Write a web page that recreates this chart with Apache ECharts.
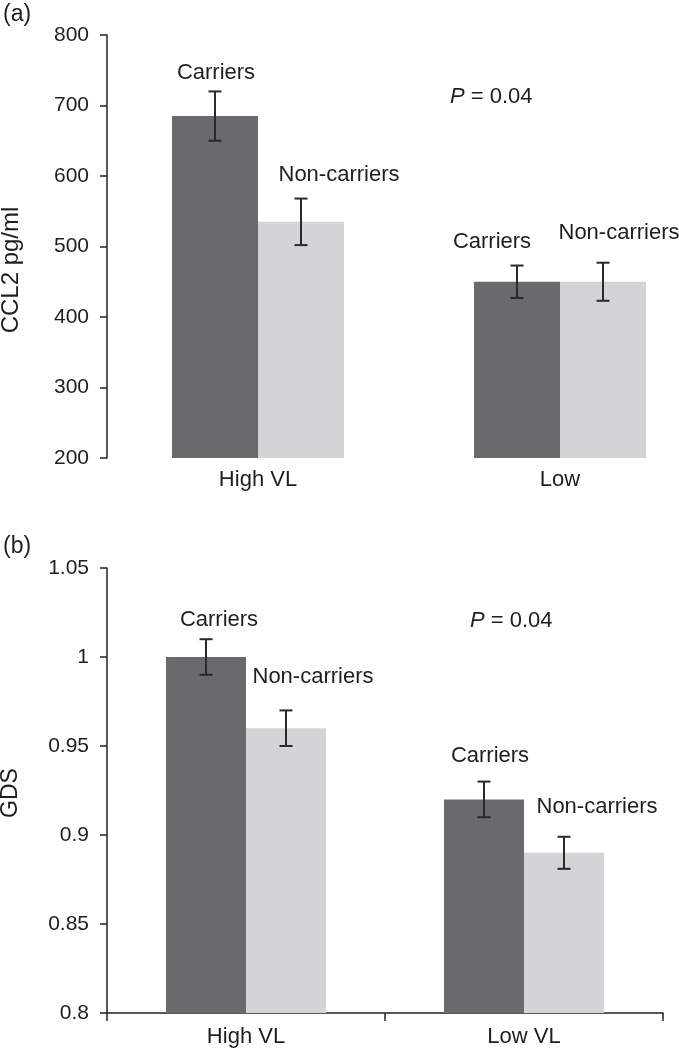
<!DOCTYPE html>
<html><head><meta charset="utf-8">
<script src="https://cdn.jsdelivr.net/npm/echarts@6/dist/echarts.min.js"></script>
<style>html,body{margin:0;padding:0;background:#fff}#c{width:679px;height:1050px}</style>
</head><body><div id="c"></div>
<script>
// ---- Panel (a) data ----
const categoriesA = ['High VL', 'Low'];
const carriersA = [685, 450];
const carriersErrA = [35, 23];
const nonCarriersA = [535, 450];
const nonCarriersErrA = [33, 27];
const yMinA = 200, yMaxA = 800, yStepA = 100;
const yTitleA = 'CCL2 pg/ml';

// ---- Panel (b) data ----
const categoriesB = ['High VL', 'Low VL'];
const carriersB = [1.0, 0.92];
const carriersErrB = [0.01, 0.01];
const nonCarriersB = [0.96, 0.89];
const nonCarriersErrB = [0.01, 0.009];
const yMinB = 0.8, yMaxB = 1.05, yStepB = 0.05;
const yTitleB = 'GDS';

const seriesNames = ['Carriers', 'Non-carriers'];
const pText = 'P = 0.04';

// ---- layout (label offsets from bar top centre, px) ----
const labelPosA = [[[1, -43], [-25, -40]], [[38, -47], [16, -49]]];
const labelPosB = [[[13, -37], [6, -43]], [[27, -51], [33, -46]]];

const FONT = 'Liberation Sans, Arial, sans-serif';
const TXT = '#1e1e1e';
const DARK = '#6a6a6c';
const LIGHT = '#d3d4d6';
const barWA = 86, barWB = 80;
const FS = 22;

function errRender(side, barW, labelPos, name) {
  return function (params, api) {
    const i = api.value(0), v = api.value(1), e = api.value(2);
    const c = api.coord([i, v]);
    const x = c[0] + side * barW / 2;
    const t = api.coord([i, v + e])[1];
    const b = api.coord([i, v - e])[1];
    const cap = 6.5;
    const st = { stroke: '#2a2a2a', lineWidth: 2 };
    const lp = labelPos[params.dataIndex];
    return {
      type: 'group', children: [
        { type: 'line', shape: { x1: x, y1: t, x2: x, y2: b }, style: st },
        { type: 'line', shape: { x1: x - cap, y1: t, x2: x + cap, y2: t }, style: st },
        { type: 'line', shape: { x1: x - cap, y1: b, x2: x + cap, y2: b }, style: st },
        { type: 'text', x: x + lp[0], y: c[1] + lp[1],
          style: { text: name, fill: TXT, fontSize: FS, fontFamily: FONT, align: 'center', verticalAlign: 'middle' } }
      ]
    };
  };
}

function panelSeries(idx, cats, car, carE, non, nonE, barW, labelPos) {
  return [
    { type: 'bar', name: seriesNames[0], xAxisIndex: idx, yAxisIndex: idx, data: car, barWidth: barW, barGap: '0%',
      itemStyle: { color: DARK }, silent: true },
    { type: 'bar', name: seriesNames[1], xAxisIndex: idx, yAxisIndex: idx, data: non, barWidth: barW, barGap: '0%',
      itemStyle: { color: LIGHT }, silent: true },
    { type: 'custom', xAxisIndex: idx, yAxisIndex: idx, silent: true,
      renderItem: errRender(-1, barW, labelPos[0], seriesNames[0]),
      data: cats.map((_, i) => [i, car[i], carE[i]]), z: 5 },
    { type: 'custom', xAxisIndex: idx, yAxisIndex: idx, silent: true,
      renderItem: errRender(1, barW, labelPos[1], seriesNames[1]),
      data: cats.map((_, i) => [i, non[i], nonE[i]]), z: 5 }
  ];
}

const yAxisCommon = {
  type: 'value',
  axisLine: { show: true, lineStyle: { color: '#222', width: 1.5 } },
  axisTick: { show: true, length: 7, lineStyle: { color: '#222', width: 1.5 } },
  axisLabel: { fontSize: 21, fontFamily: FONT, color: TXT, margin: 18 },
  splitLine: { show: false }
};

const pStyle = { text: '{i|P}' + pText.slice(1), fontSize: FS, fontFamily: FONT, fill: TXT,
  verticalAlign: 'middle', rich: { i: { fontStyle: 'italic', fontSize: FS, fontFamily: FONT, fill: TXT } } };

const chart = echarts.init(document.getElementById('c'), null, { renderer: 'canvas' });
chart.setOption({
  backgroundColor: '#fff',
  animation: false,
  grid: [
    { left: 107, top: 35, width: 604, height: 423, containLabel: false, outerBoundsMode: 'none' },
    { left: 107, top: 568, width: 556, height: 445, containLabel: false, outerBoundsMode: 'none' }
  ],
  xAxis: [
    { type: 'category', gridIndex: 0, data: categoriesA,
      axisLine: { show: false }, axisTick: { show: false },
      axisLabel: { fontSize: FS, fontFamily: FONT, color: TXT, margin: 11 } },
    { type: 'category', gridIndex: 1, data: categoriesB,
      axisLine: { show: true, lineStyle: { color: '#222', width: 1.5 } },
      axisTick: { show: true, length: 8, lineStyle: { color: '#222', width: 1.5 } },
      axisLabel: { fontSize: FS, fontFamily: FONT, color: TXT, margin: 13 } }
  ],
  yAxis: [
    Object.assign({}, yAxisCommon, { gridIndex: 0, min: yMinA, max: yMaxA, interval: yStepA, startValue: yMinA }),
    Object.assign({}, yAxisCommon, { gridIndex: 1, min: yMinB, max: yMaxB, interval: yStepB, startValue: yMinB })
  ],
  graphic: [
    { type: 'text', left: 3, top: 3, style: { text: '(a)', fontSize: 23, fontFamily: FONT, fill: TXT } },
    { type: 'text', left: 3, top: 535, style: { text: '(b)', fontSize: 23, fontFamily: FONT, fill: TXT } },
    { type: 'text', x: 11, y: 270, rotation: Math.PI / 2,
      style: { text: yTitleA, fontSize: 24, fontFamily: FONT, fill: TXT, align: 'center', verticalAlign: 'middle' } },
    { type: 'text', x: 11, y: 793, rotation: Math.PI / 2,
      style: { text: yTitleB, fontSize: 23, fontFamily: FONT, fill: TXT, align: 'center', verticalAlign: 'middle' } },
    { type: 'text', x: 450, y: 97, style: pStyle },
    { type: 'text', x: 470, y: 621, style: pStyle }
  ],
  series: [].concat(
    panelSeries(0, categoriesA, carriersA, carriersErrA, nonCarriersA, nonCarriersErrA, barWA, labelPosA),
    panelSeries(1, categoriesB, carriersB, carriersErrB, nonCarriersB, nonCarriersErrB, barWB, labelPosB)
  )
});
</script>
</body></html>
